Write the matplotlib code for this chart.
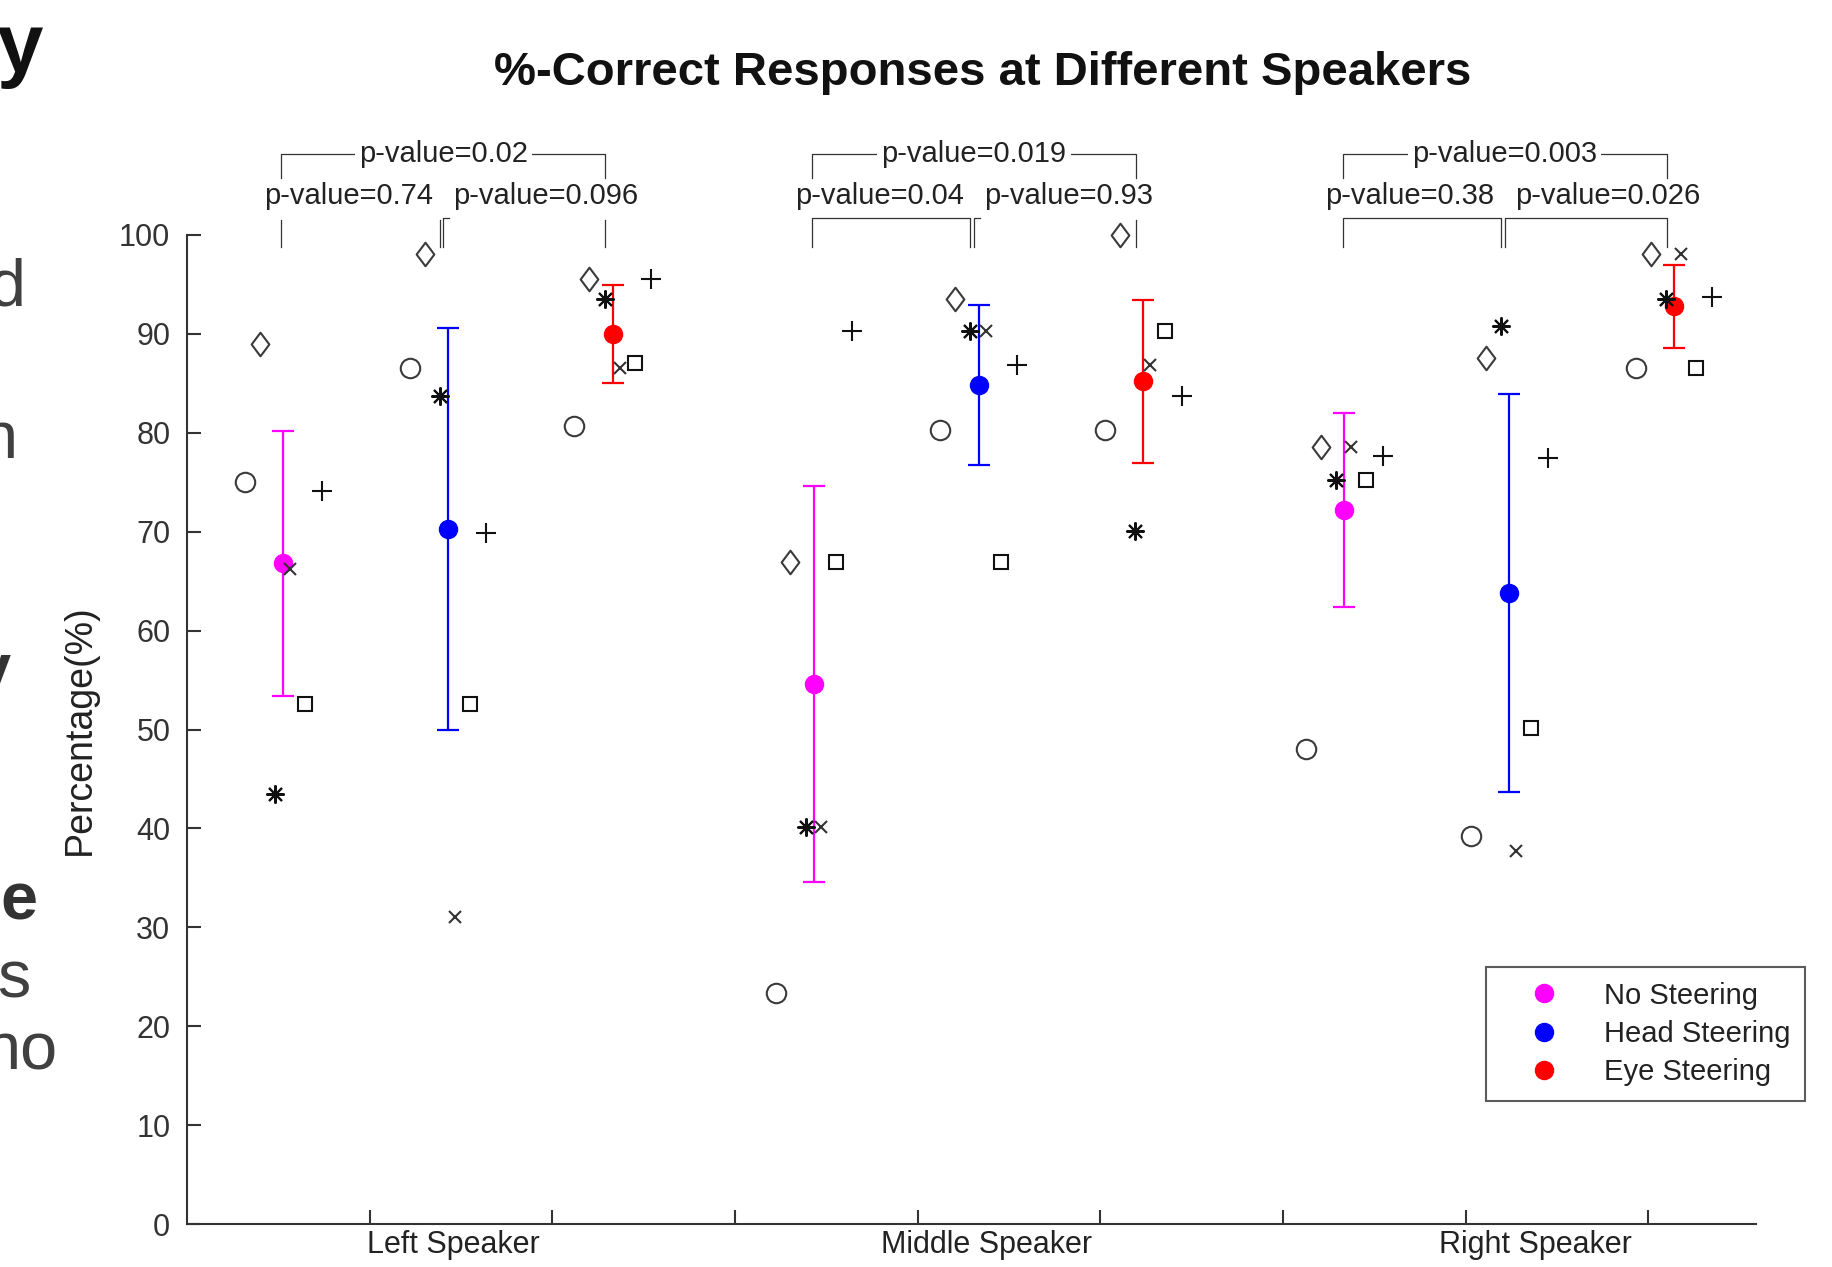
import matplotlib
matplotlib.use("Agg")
import matplotlib.pyplot as plt
from matplotlib.lines import Line2D
from matplotlib.path import Path

plt.rcParams["font.family"] = ["Liberation Sans", "DejaVu Sans"]

W, H = 1833, 1267

SPEAKERS = ["Left Speaker", "Middle Speaker", "Right Speaker"]
CONDITIONS = ["No Steering", "Head Steering", "Eye Steering"]
COND_COLORS = ["#ff00ff", "#0000ff", "#ff0000"]

# per-subject %-correct, rows = condition (no / head / eye), cols = subject
SUBJ_LEFT = [[75.0, 89.0, 43.5, 66.2, 52.6, 74.1],
             [86.6, 98.1, 83.7, 31.0, 52.6, 69.9],
             [80.7, 95.6, 93.5, 86.6, 87.1, 95.6]]
SUBJ_MIDDLE = [[23.4, 66.9, 40.1, 40.1, 66.9, 90.3],
               [80.3, 93.5, 90.3, 90.3, 66.9, 86.9],
               [80.3, 100.0, 70.1, 86.9, 90.3, 83.7]]
SUBJ_RIGHT = [[48.0, 78.6, 75.2, 78.6, 75.2, 77.7],
              [39.2, 87.6, 90.8, 37.7, 50.2, 77.5],
              [86.6, 98.1, 93.5, 98.1, 86.6, 93.7]]

# condition means and error bar half-widths
MEAN_LEFT = [66.8, 70.3, 90.0]
MEAN_MIDDLE = [54.6, 84.8, 85.2]
MEAN_RIGHT = [72.2, 63.8, 92.8]
ERR_LEFT = [13.4, 20.3, 4.95]
ERR_MIDDLE = [20.05, 8.1, 8.25]
ERR_RIGHT = [9.8, 20.1, 4.2]

P_NO_EYE = ["0.02", "0.019", "0.003"]
P_NO_HEAD = ["0.74", "0.04", "0.38"]
P_HEAD_EYE = ["0.096", "0.93", "0.026"]

SUBJ = [SUBJ_LEFT, SUBJ_MIDDLE, SUBJ_RIGHT]
MEANS = [MEAN_LEFT, MEAN_MIDDLE, MEAN_RIGHT]
ERRS = [ERR_LEFT, ERR_MIDDLE, ERR_RIGHT]

# layout
START, COND_GAP, GROUP_GAP = 0.527, 0.902, 2.905
SUBJ_OFFSET = [-0.21, -0.128, -0.045, 0.038, 0.12, 0.21]
LABEL_X = [1.46, 4.38, 7.38]
LOWER_LINE = [(False, False), (True, False), (True, True)]

DIAMOND = Path([(0, 1), (0.75, 0), (0, -1), (-0.75, 0), (0, 1)], closed=True)
SUBJ_MARKERS = [("o", 14, "#3a3a3a"), (DIAMOND, 17, "#3a3a3a"), ((8, 2, 0), 13, "#111111"),
                ("x", 9, "#333333"), ("s", 10, "#111111"), ("+", 15, "#111111")]
AX_COLOR = "#333333"


def xpos(g, c):
    return START + g * GROUP_GAP + c * COND_GAP


fig = plt.figure(figsize=(W / 100, H / 100), dpi=100)
ax = fig.add_axes([187 / W, 43 / H, (1756 - 187) / W, (1224 - 235) / H])

for g in range(3):
    for c in range(3):
        x = xpos(g, c)
        ax.errorbar([x], [MEANS[g][c]], yerr=[ERRS[g][c]], fmt="o", color=COND_COLORS[c],
                    ms=13, capsize=8, elinewidth=1.6, capthick=1.6, zorder=2)
        for s, y in enumerate(SUBJ[g][c]):
            m, ms, col = SUBJ_MARKERS[s]
            ax.plot(x + SUBJ_OFFSET[s], y, ls="none", marker=m, ms=ms, mfc="none",
                    mec=col, mew=1.5, zorder=3, clip_on=False)

# p-value brackets
lk = dict(color=AX_COLOR, lw=0.9, clip_on=False, zorder=1)
for g in range(3):
    x_no, x_head, x_eye = xpos(g, 0) - 0.01, xpos(g, 1), xpos(g, 2) - 0.04
    # outer bracket
    ax.plot([x_no, x_no, x_eye, x_eye], [105.8, 108.2, 108.2, 105.8], **lk)
    ax.text((x_no + x_eye) / 2, 108.2, f"p-value={P_NO_EYE[g]}", ha="center", va="center",
            fontsize=21, color="#222222", zorder=4,
            bbox=dict(fc="white", ec="none", pad=3))
    # inner brackets
    l0, l1 = x_head - 0.045, x_head - 0.025
    if LOWER_LINE[g][0]:
        ax.plot([x_no, x_no, l0, l0], [98.8, 101.7, 101.7, 98.8], **lk)
    else:
        ax.plot([x_no, x_no], [98.8, 101.5], **lk)
        ax.plot([l0, l0], [98.8, 101.5], **lk)
    if LOWER_LINE[g][1]:
        ax.plot([l1, l1, x_eye, x_eye], [98.8, 101.7, 101.7, 98.8], **lk)
    else:
        ax.plot([l1, l1, l1 + 0.03], [98.8, 101.7, 101.7], **lk)
        ax.plot([x_eye, x_eye], [98.8, 101.5], **lk)
    ax.text(x_head - 0.08, 103.9, f"p-value={P_NO_HEAD[g]}", ha="right", va="center",
            fontsize=21, color="#222222")
    ax.text(x_head + 0.03, 103.9, f"p-value={P_HEAD_EYE[g]}", ha="left", va="center",
            fontsize=21, color="#222222")

for g, name in enumerate(SPEAKERS):
    ax.annotate(name, xy=(LABEL_X[g], 0), xycoords=("data", "axes fraction"),
                xytext=(0, -4), textcoords="offset points", ha="center", va="top",
                fontsize=22, color="#222222")

ax.set_xlim(0, 8.59)
ax.set_ylim(0, 100)
ax.set_xticks(range(1, 9))
ax.set_xticklabels([])
ax.set_yticks(range(0, 101, 10))
ax.tick_params(direction="in", length=10, width=1.5, colors=AX_COLOR, labelsize=22, pad=12)
for side in ("top", "right"):
    ax.spines[side].set_visible(False)
for side in ("left", "bottom"):
    ax.spines[side].set_color(AX_COLOR)
    ax.spines[side].set_linewidth(1.5)
ax.set_ylabel("Percentage(%)", fontsize=27, color="#222222", labelpad=15)

fig.text(983 / W, 1 - 73 / H, "%-Correct Responses at Different Speakers", ha="center",
         va="center", fontsize=34, fontweight="bold", color="#111111")

handles = [Line2D([], [], ls="none", marker="o", ms=13, color=c) for c in COND_COLORS]
leg = fig.legend(handles, CONDITIONS, loc="upper left", bbox_to_anchor=(1486 / W, 1 - 967 / H),
                 fontsize=21, frameon=True, fancybox=False, edgecolor=AX_COLOR,
                 borderpad=0.5, handlelength=2.97, handletextpad=0.57, labelspacing=0.35,
                 borderaxespad=0)
leg.get_frame().set_linewidth(1.5)
for t in leg.get_texts():
    t.set_color("#222222")

# cut-off slide text at the left edge
SLIDE_TEXT = [("y", 43, 72, 60, "bold", "#111111"),
              ("d", 25, 306, 48, "normal", "#404040"),
              ("n", 18, 458, 48, "normal", "#404040"),
              ("y", 10, 690, 48, "bold", "#333333"),
              ("e", 37, 919, 48, "bold", "#333333"),
              ("s", 30, 997, 48, "normal", "#404040"),
              ("no", 58, 1070, 48, "normal", "#404040")]
for s, xr, yb, fs, fw, col in SLIDE_TEXT:
    fig.text(xr / W, 1 - yb / H, s, ha="right", va="baseline", fontsize=fs,
             fontweight=fw, color=col)

fig.savefig("out.png", dpi=100)
